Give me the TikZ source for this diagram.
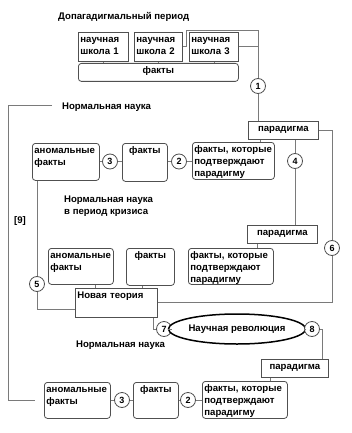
\documentclass[tikz,border=0pt]{standalone}
\usepackage{fontspec}
\setmainfont{Liberation Sans}
\usepackage{xcolor}
\usepackage{tikz}
\usetikzlibrary{shapes.geometric}

\definecolor{boxgray}{HTML}{505050}
\definecolor{linegray}{HTML}{7A7A7A}

\tikzset{
  txt/.style={font=\fontsize{9.6}{11.8}\selectfont\bfseries, inner sep=0pt},
  sbox/.style={txt, draw=boxgray, line width=0.8pt, fill=white, anchor=north west,
    align=left, inner xsep=2pt, inner ysep=2pt, text height=8pt},
  rbox/.style={sbox, rounded corners=3pt},
  num/.style={circle, draw=boxgray, line width=0.8pt, fill=white, inner sep=0pt,
    minimum size=15pt, font=\fontsize{9}{10}\selectfont\bfseries},
  link/.style={draw=linegray, line width=0.8pt},
}

\begin{document}
\begin{tikzpicture}[x=1pt, y=-1pt]
  \useasboundingbox (0,0) rectangle (351,433);
  % pre-paradigm period
  \node[txt, anchor=west] (title) at (58,17) {Допагадигмальный период};
  \node[sbox, text width=46pt, text depth=17pt] (school1) at (78,32) {научная\\школа 1};
  \node[sbox, text width=44pt, text depth=17pt] (school2) at (134,32) {научная\\школа 2};
  \node[sbox, text width=45pt, text depth=17pt] (school3) at (189,32) {научная\\школа 3};
  \node[rbox, align=center, text width=156pt, text depth=6pt] (facts0) at (78,63) {факты};
  \node[num] (c1) at (258,86) {1};
  \coordinate (k1) at (258,30);
  \draw[link] (school2.east) -- ++(4,0) |- (k1) -- (c1);
  \draw[link] (school3.east) -- (school3.east -| c1);
  \foreach \s in {school1, school2, school3}
    \draw[link] (\s.south) -- (\s.south |- facts0.north);

  % normal science
  \node[txt, anchor=west] (norm1) at (62,107) {Нормальная наука};
  \node[sbox, align=center, text width=66pt, text depth=6pt] (par1) at (248,121) {парадигма};
  \draw[link] (c1) -- (c1 |- par1.north);
  \node[rbox, text width=63pt, text depth=25pt] (anom1) at (32,143) {аномальные\\факты};
  \node[rbox, align=center, text width=41pt, text depth=26pt] (facts1) at (122,143) {факты};
  \node[rbox, text width=78pt, text depth=25pt] (conf1) at (192,142) {факты, которые\\подтверждают\\парадигму};
  \node[num] (c3a) at (110,161.5) {3};
  \node[num] (c2a) at (179,161.5) {2};
  \node[num] (c4) at (295,161) {4};
  \draw[link] (anom1.east |- c3a) -- (c3a) -- (facts1.west |- c3a);
  \draw[link] (facts1.east |- c2a) -- (c2a) -- (conf1.west |- c2a);
  \draw[link] ([xshift=12pt]par1.south west) -- ([xshift=12pt]par1.south west |- conf1.north);

  % crisis
  \node[txt, anchor=north west, align=left] (crisis) at (64,196) {Нормальная наука\\в период кризиса};
  \node[txt] (lbl9) at (20,221) {[9]};
  \node[sbox, align=center, text width=66pt, text depth=6pt] (par2) at (247,225) {парадигма};
  \draw[link] (c4 |- par1.south) -- (c4) -- (c4 |- par2.north);
  \node[rbox, text width=61pt, text depth=24pt] (anom2) at (48,248) {аномальные\\факты};
  \node[rbox, align=center, text width=44pt, text depth=25pt] (facts2) at (126,248) {факты};
  \node[rbox, text width=81pt, text depth=24pt] (conf2) at (188,248) {факты, которые\\подтверждают\\парадигму};
  \draw[link] ([xshift=10pt]par2.south west) -- ([xshift=10pt]par2.south west |- conf2.north);
  \node[num] (c6) at (332,248) {6};
  \node[num] (c5) at (37,284) {5};

  % new theory and revolution
  \node[sbox, text width=78pt, text depth=17pt] (nt) at (75,288) {Новая теория};
  \draw[link] (par1.east) -| (c6);
  \draw[link] (c6) |- ([yshift=1pt]nt.east);
  \draw[link] (c5 |- anom1.south) -- (c5);
  \draw[link] (c5) |- ([yshift=-6pt]nt.west);
  \draw[link] ([xshift=14pt]anom2.south) -- ([xshift=14pt]anom2.south |- nt.north);
  \draw[link] ([xshift=-8pt]facts2.south) -- ([xshift=-8pt]facts2.south |- nt.north);
  \node[num] (c7) at (164,329) {7};
  \node[ellipse, draw=black, line width=1.5pt, fill=white, minimum width=118pt, minimum height=30pt,
    inner sep=0pt, font=\fontsize{9.6}{11.8}\selectfont\bfseries] (rev) at (237,329) {Научная революция};
  \node[num] (c8) at (312,329) {8};
  \draw[link] ([xshift=-4pt]nt.south east) |- (c7);
  \draw[link] (c7) -- (rev);
  \draw[link] (rev) -- (c8);
  \node[txt, anchor=west] (norm2) at (76,345) {Нормальная наука};
  \node[sbox, align=center, text width=63pt, text depth=6pt] (par3) at (261,359) {парадигма};
  \draw[link] (c8.east) -| ([xshift=-6pt]par3.north east);

  % normal science again
  \node[rbox, text width=62pt, text depth=24pt] (anom3) at (44,382) {аномальные\\факты};
  \node[rbox, align=center, text width=41pt, text depth=24pt] (facts3) at (133,382) {факты};
  \node[rbox, text width=81pt, text depth=25pt] (conf3) at (202,381) {факты, которые\\подтверждают\\парадигму};
  \node[num] (c3b) at (122,400) {3};
  \node[num] (c2b) at (188,400) {2};
  \draw[link] (anom3.east |- c3b) -- (c3b) -- (facts3.west |- c3b);
  \draw[link] (facts3.east |- c2b) -- (c2b) -- (conf3.west |- c2b);
  \draw[link] ([xshift=9pt]par3.south west) -- ([xshift=9pt]par3.south west |- conf3.north);

  % loop back
  \coordinate (k2) at (52,105);
  \coordinate (k3) at (35,400);
  \draw[link] (k2) -- ++(-44,0) |- (k3);
\end{tikzpicture}
\end{document}
